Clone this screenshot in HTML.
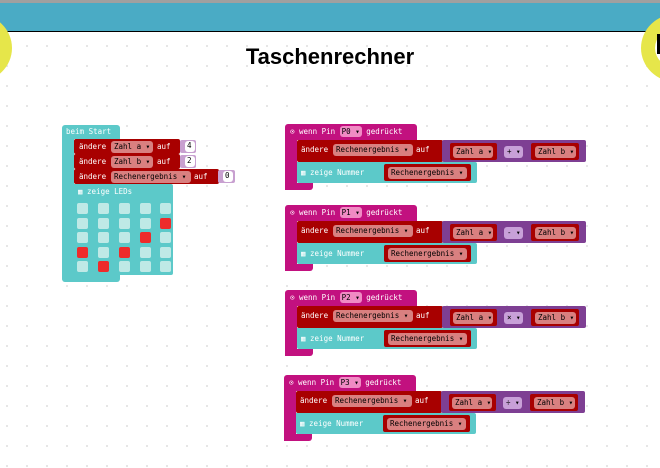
<!DOCTYPE html><html><head><style>
body{margin:0;width:660px;height:468px;overflow:hidden;background:#fff;font-family:"DejaVu Sans Mono","Liberation Mono",monospace;position:relative}
.a{position:absolute;box-sizing:border-box}
.t{position:absolute;font-size:7.5px;color:#fff;white-space:nowrap;line-height:1}
.dd{position:absolute;font-size:7.5px;white-space:nowrap;line-height:1;border-radius:3px;padding:2px 0 0 3px;box-sizing:border-box;height:12px;overflow:hidden}
.led{position:absolute;width:11px;height:11px;border-radius:2px;background:#bfe9e6}
.on{background:#ee2b2b}
</style></head><body>
<div class="a" style="left:0;top:0;width:660px;height:3px;background:#a0a0a0"></div>
<div class="a" style="left:0;top:3px;width:660px;height:28px;background:#4aabc5"></div>
<div class="a" style="left:0;top:31px;width:660px;height:1px;background:#000"></div>
<div class="a" style="left:0;top:32px;width:660px;height:436px;background-color:#fff;background-image:radial-gradient(circle,#e4e4e4 1px,transparent 1.2px);background-size:20px 20px;background-position:-3px 4px"></div>
<div class="a" style="left:-58px;top:14px;width:70px;height:68px;border-radius:50%;border:13px solid #e6e64a;background:#fff"></div>
<div class="a" style="left:641px;top:14px;width:70px;height:68px;border-radius:50%;border:14px solid #e6e64a;background:#fff"></div>
<div class="a" style="left:657px;top:34px;width:3px;height:20px;background:#000"></div>
<div class="a" style="left:0;top:44px;width:660px;text-align:center;font:bold 22px 'Liberation Sans',sans-serif;color:#000">Taschenrechner</div>

<!-- start block -->
<div class="a" style="left:62px;top:125px;width:58px;height:14px;background:#5cc9c9;border-radius:3px 3px 0 0"></div>
<div class="t" style="left:66px;top:128px">beim Start</div>
<div class="a" style="left:62px;top:138px;width:12px;height:144px;background:#5cc9c9;border-radius:0 0 0 4px"></div>
<div class="a" style="left:62px;top:275px;width:58px;height:7px;background:#5cc9c9;border-radius:0 0 3px 3px"></div>
<div class="a" style="left:74px;top:139px;width:106px;height:15px;background:#a80000;border-radius:2px"></div>
<div class="a" style="left:180px;top:140px;width:16px;height:13px;background:#c8a0d0;border-radius:2px"></div>
<div class="dd" style="left:185px;top:141px;background:#fff;color:#000;width:10px;height:11px;padding:1px 2px">4</div>
<div class="t" style="left:79px;top:143px">ändere</div><div class="dd" style="left:111px;top:141px;width:42px;background:#d98080;color:#000">Zahl a ▾</div><div class="t" style="left:157px;top:143px">auf</div>
<div class="a" style="left:74px;top:154px;width:106px;height:15px;background:#a80000;border-radius:2px"></div>
<div class="a" style="left:180px;top:155px;width:16px;height:13px;background:#c8a0d0;border-radius:2px"></div>
<div class="dd" style="left:185px;top:156px;background:#fff;color:#000;width:10px;height:11px;padding:1px 2px">2</div>
<div class="t" style="left:79px;top:158px">ändere</div><div class="dd" style="left:111px;top:156px;width:42px;background:#d98080;color:#000">Zahl b ▾</div><div class="t" style="left:157px;top:158px">auf</div>
<div class="a" style="left:74px;top:169px;width:145px;height:15px;background:#a80000;border-radius:2px"></div>
<div class="a" style="left:218px;top:170px;width:17px;height:13px;background:#c8a0d0;border-radius:2px"></div>
<div class="dd" style="left:223px;top:171px;background:#fff;color:#000;width:10px;height:11px;padding:1px 2px">0</div>
<div class="t" style="left:79px;top:173px">ändere</div><div class="dd" style="left:111px;top:171px;width:80px;background:#d98080;color:#000">Rechenergebnis ▾</div><div class="t" style="left:194px;top:173px">auf</div>
<div class="a" style="left:74px;top:184px;width:99px;height:91px;background:#5cc9c9;border-radius:0 2px 2px 0"></div>
<div class="t" style="left:78px;top:188px">▦ zeige LEDs</div>
<div class="led" style="left:77px;top:203px"></div><div class="led" style="left:98px;top:203px"></div><div class="led" style="left:119px;top:203px"></div><div class="led" style="left:140px;top:203px"></div><div class="led" style="left:160px;top:203px"></div>
<div class="led" style="left:77px;top:218px"></div><div class="led" style="left:98px;top:218px"></div><div class="led" style="left:119px;top:218px"></div><div class="led" style="left:140px;top:218px"></div><div class="led on" style="left:160px;top:218px"></div>
<div class="led" style="left:77px;top:232px"></div><div class="led" style="left:98px;top:232px"></div><div class="led" style="left:119px;top:232px"></div><div class="led on" style="left:140px;top:232px"></div><div class="led" style="left:160px;top:232px"></div>
<div class="led on" style="left:77px;top:247px"></div><div class="led" style="left:98px;top:247px"></div><div class="led on" style="left:119px;top:247px"></div><div class="led" style="left:140px;top:247px"></div><div class="led" style="left:160px;top:247px"></div>
<div class="led" style="left:77px;top:261px"></div><div class="led on" style="left:98px;top:261px"></div><div class="led" style="left:119px;top:261px"></div><div class="led" style="left:140px;top:261px"></div><div class="led" style="left:160px;top:261px"></div>

<div id="ev"></div>
<script>
var d=[[285,124,'P0','+'],[285,205,'P1','-'],[285,290,'P2','×'],[284,375,'P3','÷']],h='';
d.forEach(function(e){var x=e[0],y=e[1];
h+='<div class="a" style="left:'+x+'px;top:'+y+'px;width:132px;height:16px;background:#c2117f;border-radius:3px 3px 0 0"></div>';
h+='<div class="t" style="left:'+(x+5)+'px;top:'+(y+4)+'px">⊙ wenn Pin <span style="background:#f08bc4;color:#000;border-radius:3px;padding:1px 2px">'+e[2]+' ▾</span> gedrückt</div>';
h+='<div class="a" style="left:'+x+'px;top:'+(y+15)+'px;width:12px;height:51px;background:#c2117f"></div>';
h+='<div class="a" style="left:'+x+'px;top:'+(y+59)+'px;width:28px;height:7px;background:#c2117f;border-radius:0 0 3px 3px"></div>';
h+='<div class="a" style="left:'+(x+12)+'px;top:'+(y+16)+'px;width:146px;height:22px;background:#a80000;border-radius:2px"></div>';
h+='<div class="t" style="left:'+(x+16)+'px;top:'+(y+22)+'px">ändere</div>';
h+='<div class="dd" style="left:'+(x+48)+'px;top:'+(y+20)+'px;width:80px;background:#d98080;color:#000">Rechenergebnis ▾</div>';
h+='<div class="t" style="left:'+(x+131)+'px;top:'+(y+22)+'px">auf</div>';
h+='<div class="a" style="left:'+(x+157)+'px;top:'+(y+16)+'px;width:144px;height:22px;background:#7e3f93;border-radius:2px"></div>';
h+='<div class="a" style="left:'+(x+165)+'px;top:'+(y+19)+'px;width:47px;height:17px;background:#a80000;border-radius:2px"></div>';
h+='<div class="dd" style="left:'+(x+168)+'px;top:'+(y+22)+'px;width:40px;background:#d98080;color:#000">Zahl a ▾</div>';
h+='<div class="dd" style="left:'+(x+219)+'px;top:'+(y+22)+'px;width:19px;background:#c8a0d8;color:#000">'+e[3]+' ▾</div>';
h+='<div class="a" style="left:'+(x+246)+'px;top:'+(y+19)+'px;width:48px;height:17px;background:#a80000;border-radius:2px"></div>';
h+='<div class="dd" style="left:'+(x+250)+'px;top:'+(y+22)+'px;width:41px;background:#d98080;color:#000">Zahl b ▾</div>';
h+='<div class="a" style="left:'+(x+12)+'px;top:'+(y+38)+'px;width:180px;height:21px;background:#5cc9c9;border-radius:0 2px 2px 2px"></div>';
h+='<div class="t" style="left:'+(x+16)+'px;top:'+(y+45)+'px">▦ zeige Nummer</div>';
h+='<div class="a" style="left:'+(x+99)+'px;top:'+(y+40)+'px;width:87px;height:17px;background:#a80000;border-radius:2px"></div>';
h+='<div class="dd" style="left:'+(x+103)+'px;top:'+(y+43)+'px;width:79px;background:#d98080;color:#000">Rechenergebnis ▾</div>';
});
document.getElementById('ev').innerHTML=h;
</script>
</body></html>
